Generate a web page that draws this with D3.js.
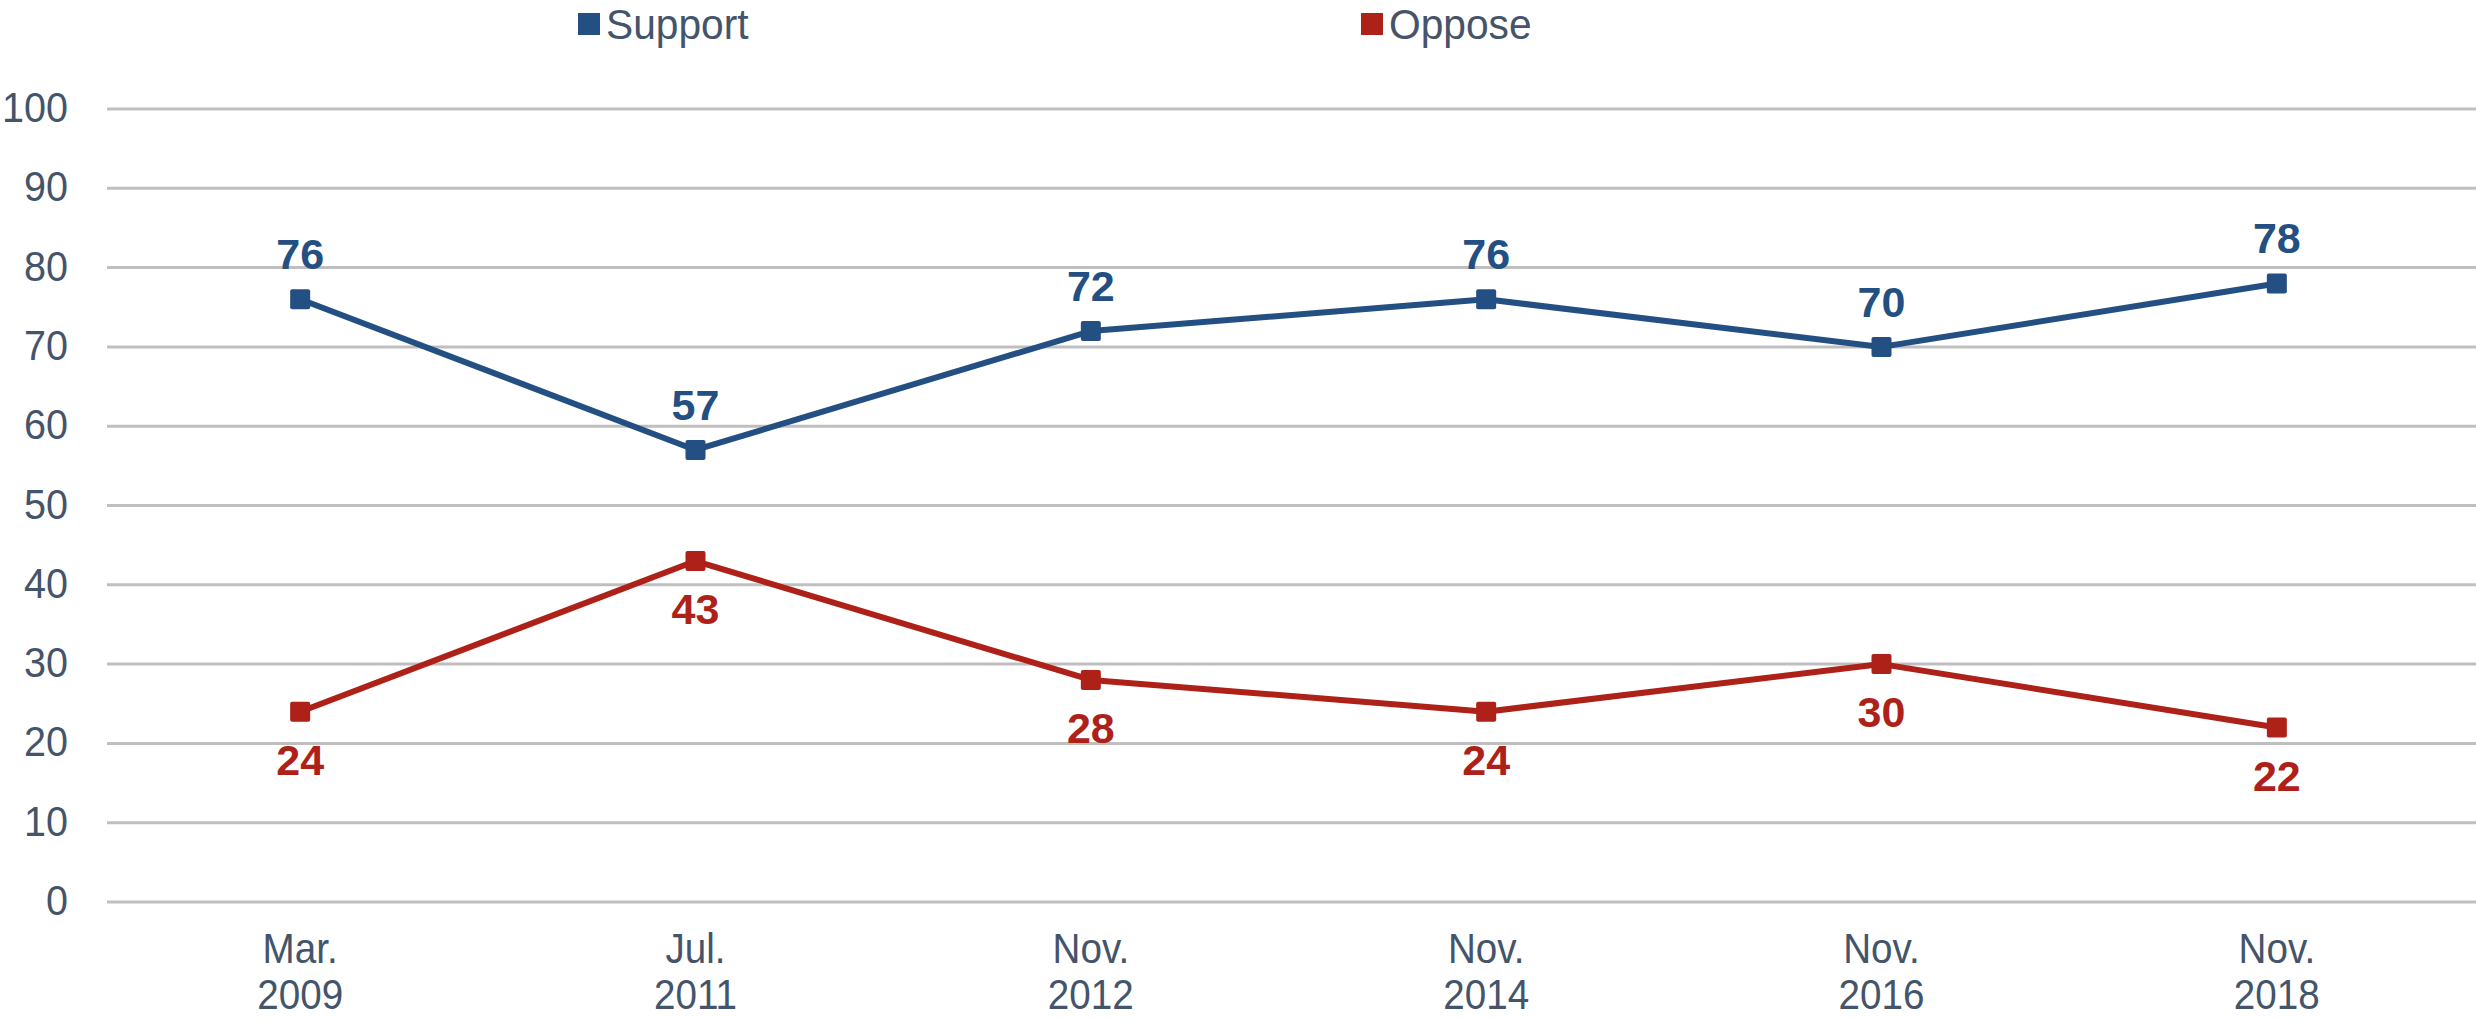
<!DOCTYPE html>
<html>
<head>
<meta charset="utf-8">
<script src="https://cdn.jsdelivr.net/npm/d3@7"></script>
<style>
  body { margin: 0; background: #fff; }
  svg { display: block; font-family: "Liberation Sans", Arial, sans-serif; }
</style>
</head>
<body>
<script>
const categories = [["Mar.", "2009"], ["Jul.", "2011"], ["Nov.", "2012"], ["Nov.", "2014"], ["Nov.", "2016"], ["Nov.", "2018"]];
const support = [76, 57, 72, 76, 70, 78];
const oppose = [24, 43, 28, 24, 30, 22];
const yTicks = [0, 10, 20, 30, 40, 50, 60, 70, 80, 90, 100];

const width = 2476, height = 1020;
const textColor = "#44546a";

const series = [
  { name: "Support", values: support, color: "#234f82", labelPos: "above" },
  { name: "Oppose", values: oppose, color: "#ae2118", labelPos: "below" }
];

const svg = d3.select("body").append("svg")
    .attr("width", width)
    .attr("height", height);

const x = d3.scaleBand()
    .domain(categories.map((d, i) => i))
    .range([102.5, 2474.5]);

const y = d3.scaleLinear()
    .domain([0, 100])
    .range([902, 109]);

const cx = i => x(i) + x.bandwidth() / 2;

// gridlines
svg.append("g")
  .selectAll("line")
  .data(yTicks)
  .enter().append("line")
    .attr("x1", 107)
    .attr("x2", width)
    .attr("y1", d => y(d))
    .attr("y2", d => y(d))
    .attr("stroke", "#bfbfbf")
    .attr("stroke-width", 3);

// y tick labels (slightly narrow, as in the original)
svg.append("g")
  .selectAll("text")
  .data(yTicks)
  .enter().append("text")
    .attr("transform", d => `translate(68,${y(d) + 13}) scale(0.92,1)`)
    .attr("text-anchor", "end")
    .attr("font-size", 43)
    .attr("fill", textColor)
    .text(d => d);

// category labels
const catLabels = svg.append("g")
  .selectAll("text")
  .data(categories)
  .enter().append("text")
    .attr("transform", (d, i) => `translate(${cx(i)},0) scale(0.92,1)`)
    .attr("text-anchor", "middle")
    .attr("font-size", 42)
    .attr("fill", textColor);

catLabels.append("tspan")
    .attr("x", 0)
    .attr("y", 963)
    .text(d => d[0]);

catLabels.append("tspan")
    .attr("x", 0)
    .attr("y", 1009)
    .text(d => d[1]);

const line = d3.line()
    .x((d, i) => cx(i))
    .y(d => y(d));

series.forEach(s => {
  const g = svg.append("g");

  g.append("path")
      .attr("d", line(s.values))
      .attr("fill", "none")
      .attr("stroke", s.color)
      .attr("stroke-width", 6)
      .attr("stroke-linejoin", "round");

  g.selectAll("rect")
    .data(s.values)
    .enter().append("rect")
      .attr("x", (d, i) => cx(i) - 10)
      .attr("y", d => y(d) - 10)
      .attr("width", 20)
      .attr("height", 20)
      .attr("rx", 2)
      .attr("fill", s.color);

  g.selectAll("text")
    .data(s.values)
    .enter().append("text")
      .attr("x", (d, i) => cx(i))
      .attr("y", d => s.labelPos === "above" ? y(d) - 30 : y(d) + 63)
      .attr("text-anchor", "middle")
      .attr("font-size", 43)
      .attr("font-weight", "bold")
      .attr("fill", s.color)
      .text(d => d);
});

// legend
const legendX = [578, 1361];
const legend = svg.append("g")
  .selectAll("g")
  .data(series)
  .enter().append("g")
    .attr("transform", (d, i) => `translate(${legendX[i]},13)`);

legend.append("rect")
    .attr("width", 22)
    .attr("height", 22)
    .attr("fill", d => d.color);

legend.append("text")
    .attr("transform", "translate(28,26) scale(0.97,1)")
    .attr("font-size", 42)
    .attr("fill", textColor)
    .text(d => d.name);
</script>
</body>
</html>
